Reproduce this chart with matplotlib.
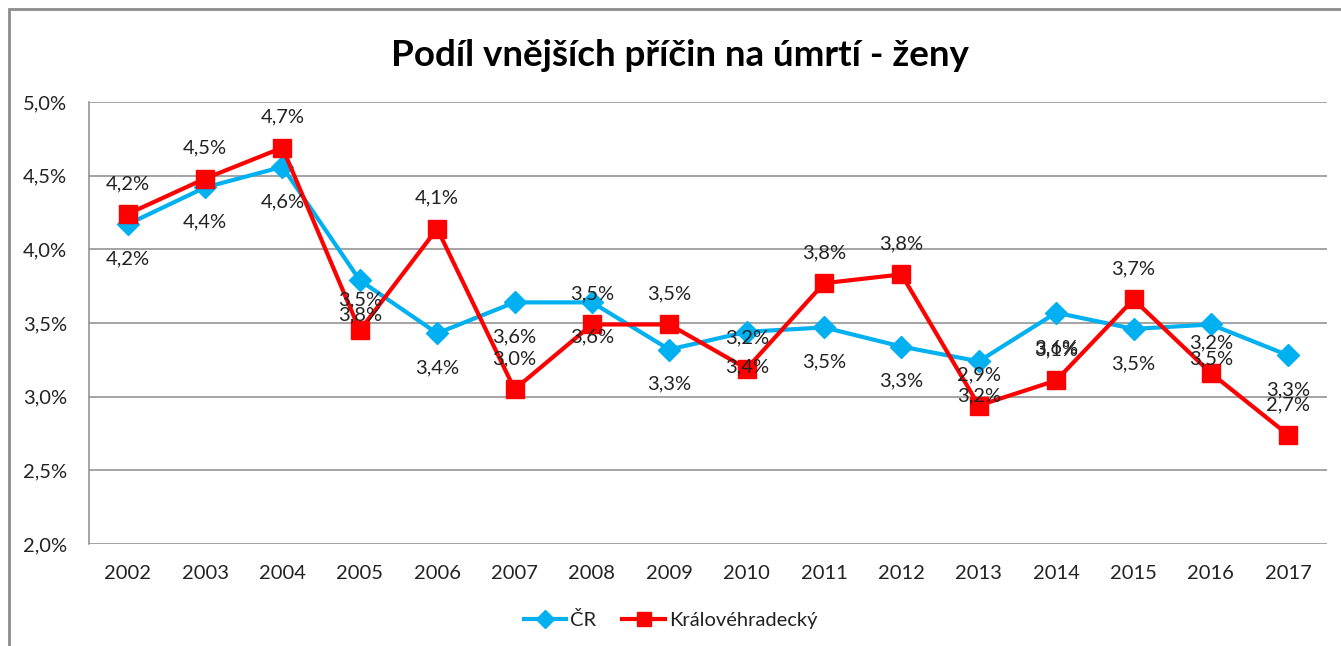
import matplotlib.pyplot as plt
from matplotlib.patches import Rectangle

years = ['2002', '2003', '2004', '2005', '2006', '2007', '2008', '2009',
         '2010', '2011', '2012', '2013', '2014', '2015', '2016', '2017']
cr = [4.17, 4.42, 4.56, 3.79, 3.43, 3.64, 3.64, 3.32,
      3.44, 3.47, 3.34, 3.24, 3.57, 3.46, 3.49, 3.28]
khk = [4.24, 4.48, 4.69, 3.45, 4.14, 3.05, 3.49, 3.49,
       3.19, 3.77, 3.83, 2.94, 3.11, 3.66, 3.16, 2.74]
yticks = [2.0, 2.5, 3.0, 3.5, 4.0, 4.5, 5.0]

blue = '#00B0F0'
red = '#FF0000'
txt = '#222222'
plt.rcParams['font.family'] = ['Lato', 'DejaVu Sans']

fig = plt.figure(figsize=(13.41, 6.46), dpi=100)
ax = fig.add_axes([89/1341, 1 - 544/646, (1327 - 89)/1341, (544 - 102)/646])

x = list(range(len(years)))
ax.plot(x, cr, color=blue, lw=3, marker='D', ms=11, label='ČR', zorder=3)
ax.plot(x, khk, color=red, lw=3, marker='s', ms=13, label='Královéhradecký', zorder=4)

def fmt(v):
    return ('%.1f%%' % v).replace('.', ',')

# data labels: CR below its points, KHK above (overlaps as in the original)
for i in x:
    ax.annotate(fmt(cr[i]), (i, cr[i]), xytext=(0, -25), textcoords='offset points',
                ha='center', va='center', fontsize=14.5, color=txt, zorder=5)
    ax.annotate(fmt(khk[i]), (i, khk[i]), xytext=(0, 22), textcoords='offset points',
                ha='center', va='center', fontsize=14.5, color=txt, zorder=5)

ax.set_xlim(-0.5, len(years) - 0.5)
ax.set_ylim(2.0, 5.0)
ax.set_xticks(x)
ax.set_xticklabels(years)
ax.set_yticks(yticks)
ax.set_yticklabels([fmt(v) for v in yticks])
ax.tick_params(length=0, labelsize=14.5, labelcolor=txt)
ax.tick_params(axis='x', pad=15)
ax.tick_params(axis='y', pad=16)
ax.yaxis.grid(True, color='#8c8c8c', lw=1.1)
ax.set_axisbelow(True)
for s in ['top', 'right', 'bottom']:
    ax.spines[s].set_visible(False)
ax.spines['left'].set_color('#8c8c8c')
ax.spines['left'].set_linewidth(1.1)

fig.text(0.507, 1 - 55/646, 'Podíl vnějších příčin na úmrtí - ženy', ha='center', va='center',
         fontsize=26.5, fontweight='bold', color='black')

fig.legend(loc='center', bbox_to_anchor=(0.5, 1 - 620/646), ncol=2, frameon=False,
           fontsize=14.5, handlelength=2.1, columnspacing=1.3, handletextpad=0.2,
           labelcolor=txt, markerscale=0.8)

fig.patches.append(Rectangle((9/1341, -0.1), 1.2, 1 - 9/646 + 0.1, transform=fig.transFigure,
                             fill=False, edgecolor='#8c8c8c', lw=2))

fig.savefig('out.png', dpi=100)
